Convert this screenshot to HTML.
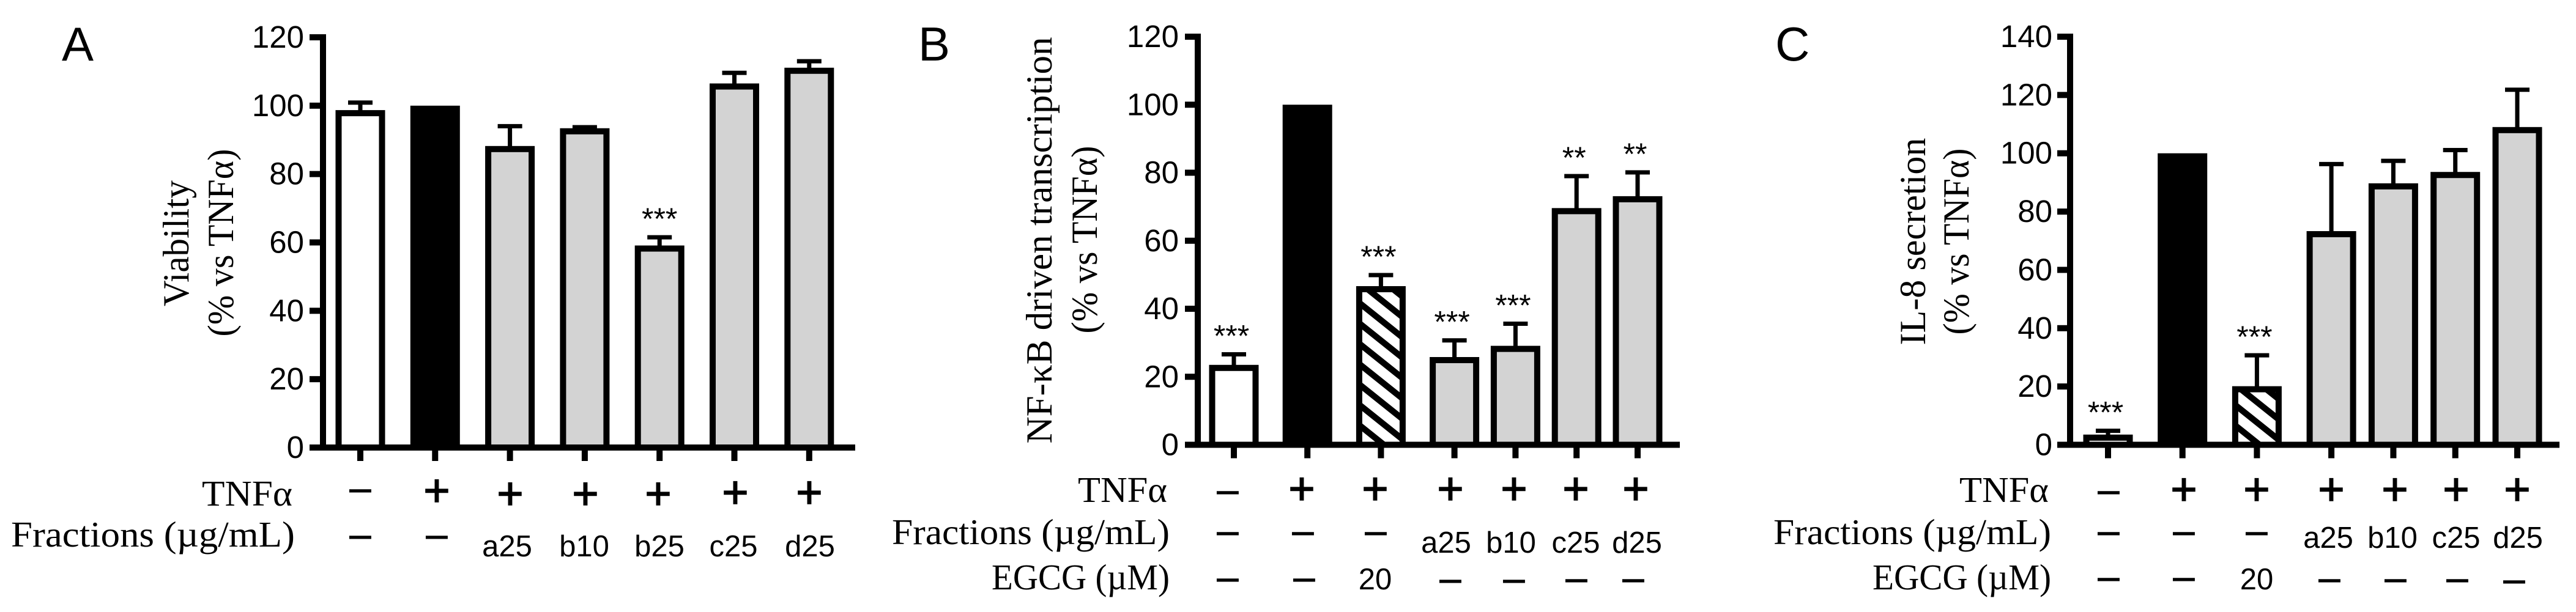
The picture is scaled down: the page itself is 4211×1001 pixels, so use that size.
<!DOCTYPE html>
<html lang="en">
<head>
<meta charset="utf-8">
<title>Viability, NF-κB driven transcription and IL-8 secretion</title>
<style>
html,body{margin:0;padding:0;background:#fff;width:4211px;height:1001px;overflow:hidden}
svg{display:block}
text{fill:#000}
.letter{font:78px "Liberation Sans",sans-serif}
.tick{font:51px "Liberation Sans",sans-serif;text-anchor:end}
.title{font:60px "Liberation Serif",serif;text-anchor:middle}
.rowlab{font:59px "Liberation Serif",serif;text-anchor:end}
.m{font:74px "Liberation Sans",sans-serif;text-anchor:middle;transform:translateY(1.5px)}
.p{font:74px "Liberation Sans",sans-serif;text-anchor:middle;stroke:#000;stroke-width:1.6px;transform:translateY(1.5px)}
.s{font:49px "Liberation Sans",sans-serif;text-anchor:middle}
.star{font:50px "Liberation Sans",sans-serif;text-anchor:middle}
</style>
</head>
<body>
<svg id="figure" xmlns="http://www.w3.org/2000/svg" width="4211" height="1001" viewBox="0 0 4211 1001">
<defs>
<pattern id="hatch-b" patternUnits="userSpaceOnUse" width="10" height="33.33" patternTransform="translate(2227.7 526.7) skewY(38.66)"><rect width="10" height="33.33" fill="#fff"/><rect width="10" height="13" fill="#000"/></pattern>
<pattern id="hatch-c" patternUnits="userSpaceOnUse" width="10" height="33.33" patternTransform="translate(3659 660) skewY(38.66)"><rect width="10" height="33.33" fill="#fff"/><rect width="10" height="13" fill="#000"/></pattern>
</defs>

<text class="letter" x="101" y="99">A</text>
<text class="letter" x="1501" y="99">B</text>
<text class="letter" x="2902" y="99">C</text>

<text class="title" transform="translate(308 398) rotate(-90)" textLength="206" lengthAdjust="spacingAndGlyphs">Viability</text>
<text class="title" transform="translate(381 397) rotate(-90)" textLength="307" lengthAdjust="spacingAndGlyphs">(% vs TNFα)</text>
<text class="title" transform="translate(1719 393) rotate(-90)" textLength="665" lengthAdjust="spacingAndGlyphs">NF-κB driven transcription</text>
<text class="title" transform="translate(1793 392) rotate(-90)" textLength="307" lengthAdjust="spacingAndGlyphs">(% vs TNFα)</text>
<text class="title" transform="translate(3147 395) rotate(-90)" textLength="339" lengthAdjust="spacingAndGlyphs">IL-8 secretion</text>
<text class="title" transform="translate(3218 395) rotate(-90)" textLength="305" lengthAdjust="spacingAndGlyphs">(% vs TNFα)</text>

<g id="panel-a"></g>
<g id="panel-b"></g>
<g id="panel-c"></g>

<g>
<text class="rowlab" x="478" y="827" textLength="148" lengthAdjust="spacingAndGlyphs">TNFα</text>
<text class="rowlab" x="482" y="894" textLength="464" lengthAdjust="spacingAndGlyphs">Fractions (µg/mL)</text>
<text class="m" x="589" y="826">−</text>
<text class="p" x="714" y="826">+</text>
<text class="p" x="834" y="831">+</text>
<text class="p" x="957" y="831">+</text>
<text class="p" x="1076" y="831">+</text>
<text class="p" x="1202" y="829">+</text>
<text class="p" x="1323" y="829">+</text>
<text class="m" x="589" y="902">−</text>
<text class="m" x="714" y="902">−</text>
<text class="s" x="829" y="910">a25</text>
<text class="s" x="955" y="910">b10</text>
<text class="s" x="1078" y="910">b25</text>
<text class="s" x="1199" y="910">c25</text>
<text class="s" x="1324" y="910">d25</text>
</g>

<g>
<text class="rowlab" x="1908" y="821" textLength="146" lengthAdjust="spacingAndGlyphs">TNFα</text>
<text class="rowlab" x="1912" y="890" textLength="454" lengthAdjust="spacingAndGlyphs">Fractions (µg/mL)</text>
<text class="rowlab" x="1912" y="964" textLength="291" lengthAdjust="spacingAndGlyphs">EGCG (µM)</text>
<text class="m" x="2007" y="829">−</text>
<text class="p" x="2128" y="823">+</text>
<text class="p" x="2248" y="823">+</text>
<text class="p" x="2371" y="823">+</text>
<text class="p" x="2475" y="823">+</text>
<text class="p" x="2576" y="823">+</text>
<text class="p" x="2674" y="823">+</text>
<text class="m" x="2007" y="896">−</text>
<text class="m" x="2130" y="896">−</text>
<text class="m" x="2249" y="896">−</text>
<text class="s" x="2364" y="904">a25</text>
<text class="s" x="2470" y="904">b10</text>
<text class="s" x="2576" y="904">c25</text>
<text class="s" x="2676" y="904">d25</text>
<text class="m" x="2007" y="972">−</text>
<text class="m" x="2132" y="972">−</text>
<text class="s" x="2248" y="964">20</text>
<text class="m" x="2371" y="974">−</text>
<text class="m" x="2475" y="974">−</text>
<text class="m" x="2577" y="973">−</text>
<text class="m" x="2670" y="973">−</text>
</g>

<g>
<text class="rowlab" x="3349" y="821" textLength="146" lengthAdjust="spacingAndGlyphs">TNFα</text>
<text class="rowlab" x="3353" y="890" textLength="454" lengthAdjust="spacingAndGlyphs">Fractions (µg/mL)</text>
<text class="rowlab" x="3353" y="964" textLength="292" lengthAdjust="spacingAndGlyphs">EGCG (µM)</text>
<text class="m" x="3447" y="829">−</text>
<text class="p" x="3570" y="824">+</text>
<text class="p" x="3689" y="824">+</text>
<text class="p" x="3811" y="824">+</text>
<text class="p" x="3915" y="824">+</text>
<text class="p" x="4015" y="824">+</text>
<text class="p" x="4115" y="824">+</text>
<text class="m" x="3447" y="896">−</text>
<text class="m" x="3570" y="896">−</text>
<text class="m" x="3689" y="896">−</text>
<text class="s" x="3806" y="896">a25</text>
<text class="s" x="3911" y="896">b10</text>
<text class="s" x="4015" y="896">c25</text>
<text class="s" x="4116" y="896">d25</text>
<text class="m" x="3447" y="971">−</text>
<text class="m" x="3570" y="971">−</text>
<text class="s" x="3689" y="964">20</text>
<text class="m" x="3808" y="973">−</text>
<text class="m" x="3916" y="973">−</text>
<text class="m" x="4017" y="973">−</text>
<text class="m" x="4110" y="975">−</text>
</g>
</svg>

<script>
// Chart data
const ticksA = [0, 20, 40, 60, 80, 100, 120];
const ticksB = [0, 20, 40, 60, 80, 100, 120];
const ticksC = [0, 20, 40, 60, 80, 100, 120, 140];

const categoriesA = ['control', 'tnf', 'a25', 'b10', 'b25', 'c25', 'd25'];
const categoriesB = ['control', 'tnf', 'egcg', 'a25', 'b10', 'c25', 'd25'];
const categoriesC = ['control', 'tnf', 'egcg', 'a25', 'b10', 'c25', 'd25'];

const valuesA = [98.7, 100, 88.2, 93.4, 59.1, 106.5, 111.1];
const valuesB = [23.5, 100, 46.65, 25.8, 29.1, 69.6, 73.1];
const valuesC = [3.5, 100, 20.1, 73.3, 89.7, 93.6, 109];

const errorTopsA = [100.9, null, 94, 93.7, 61.5, 109.6, 113];
const errorTopsB = [26.6, null, 49.9, 30.7, 35.6, 79, 80.1];
const errorTopsC = [4.8, null, 30.7, 96.3, 97.4, 101.1, 121.8];

const starsA = ['', '', '', '', '***', '', ''];
const starsB = ['***', '', '***', '***', '***', '**', '**'];
const starsC = ['***', '', '***', '', '', '', ''];

const SVGNS = 'http://www.w3.org/2000/svg';

function panelFrame(id, cfg) {
  return Object.assign({ id: id }, cfg);
}

const frameA = panelFrame('a', { axisX: 528, tickLeft: 506, axisRight: 1398, y0: 732, yMaxPx: 61, domainMax: 120, x0: 589, wide: 122.3, narrow: 122.3, labelRight: 497, hatch: null, starDx: 0 });
const frameB = panelFrame('b', { axisX: 1958, tickLeft: 1937, axisRight: 2746, y0: 727.5, yMaxPx: 60, domainMax: 120, x0: 2017, wide: 120.2, narrow: 99.8, labelRight: 1927, hatch: 'url(#hatch-b)', starDx: -4 });
const frameC = panelFrame('c', { axisX: 3384, tickLeft: 3363, axisRight: 4184, y0: 727.5, yMaxPx: 60, domainMax: 140, x0: 3446, wide: 121.7, narrow: 101.3, labelRight: 3355, hatch: 'url(#hatch-c)', starDx: -4 });

function rect(parent, x, y, w, h, fill) {
  const r = document.createElementNS(SVGNS, 'rect');
  r.setAttribute('x', x);
  r.setAttribute('y', y);
  r.setAttribute('width', w);
  r.setAttribute('height', h);
  r.setAttribute('fill', fill);
  parent.appendChild(r);
  return r;
}

function drawPanel(f, ticks, categories, values, errorTops, stars) {
  const g = document.getElementById('panel-' + f.id);
  const yScale = v => f.y0 - (f.y0 - f.yMaxPx) * v / f.domainMax;
  const xScale = i => f.x0 + f.wide * Math.min(i, 3) + f.narrow * Math.max(i - 3, 0);
  const BAR = 81, SW = 10, STEM = 7, CAP = 40, CAPH = 7, AXW = 10, STAR_GAP = 39;

  values.forEach((v, i) => {
    const cx = xScale(i);
    const top = yScale(v);
    const cat = categories[i];

    if (errorTops[i] !== null) {
      const ey = yScale(errorTops[i]);
      const stem = rect(g, cx - STEM / 2, ey, STEM, top - ey + 2, '#000');
      
      
      const cap = rect(g, cx - CAP / 2, ey - CAPH / 2, CAP, CAPH, '#000');
      
      
    }

    let fill = '#d3d3d3';
    if (cat === 'control') fill = '#fff';
    if (cat === 'tnf') fill = '#000';
    if (cat === 'egcg') fill = f.hatch;
    const bar = rect(g, cx - BAR / 2 + SW / 2, top + SW / 2, BAR - SW, f.y0 - top - SW / 2, fill);
    bar.setAttribute('stroke', '#000');
    bar.setAttribute('stroke-width', SW);
    
    

    const xt = rect(g, cx - AXW / 2, f.y0, AXW, 22, '#000');
    
    

    if (stars[i]) {
      const refY = errorTops[i] !== null ? yScale(errorTops[i]) : top;
      const t = document.createElementNS(SVGNS, 'text');
      t.setAttribute('class', 'star');
      t.setAttribute('x', cx + f.starDx);
      t.setAttribute('y', refY - STAR_GAP + 26);
      t.textContent = stars[i];
      
      
      g.appendChild(t);
    }
  });

  const ya = rect(g, f.axisX - AXW / 2, f.yMaxPx - AXW / 2, AXW, f.y0 - f.yMaxPx + AXW, '#000');
  
  
  const xa = rect(g, f.tickLeft, f.y0 - AXW / 2, f.axisRight - f.tickLeft, AXW, '#000');
  
  

  ticks.forEach(v => {
    const y = yScale(v);
    const tk = rect(g, f.tickLeft, y - AXW / 2, f.axisX - f.tickLeft, AXW, '#000');
    
    
    const t = document.createElementNS(SVGNS, 'text');
    t.setAttribute('class', 'tick');
    t.setAttribute('x', f.labelRight);
    t.setAttribute('y', y + 17);
    t.textContent = v;
    
    
    g.appendChild(t);
  });
}

drawPanel(frameA, ticksA, categoriesA, valuesA, errorTopsA, starsA);
drawPanel(frameB, ticksB, categoriesB, valuesB, errorTopsB, starsB);
drawPanel(frameC, ticksC, categoriesC, valuesC, errorTopsC, starsC);
</script>
</body>
</html>
